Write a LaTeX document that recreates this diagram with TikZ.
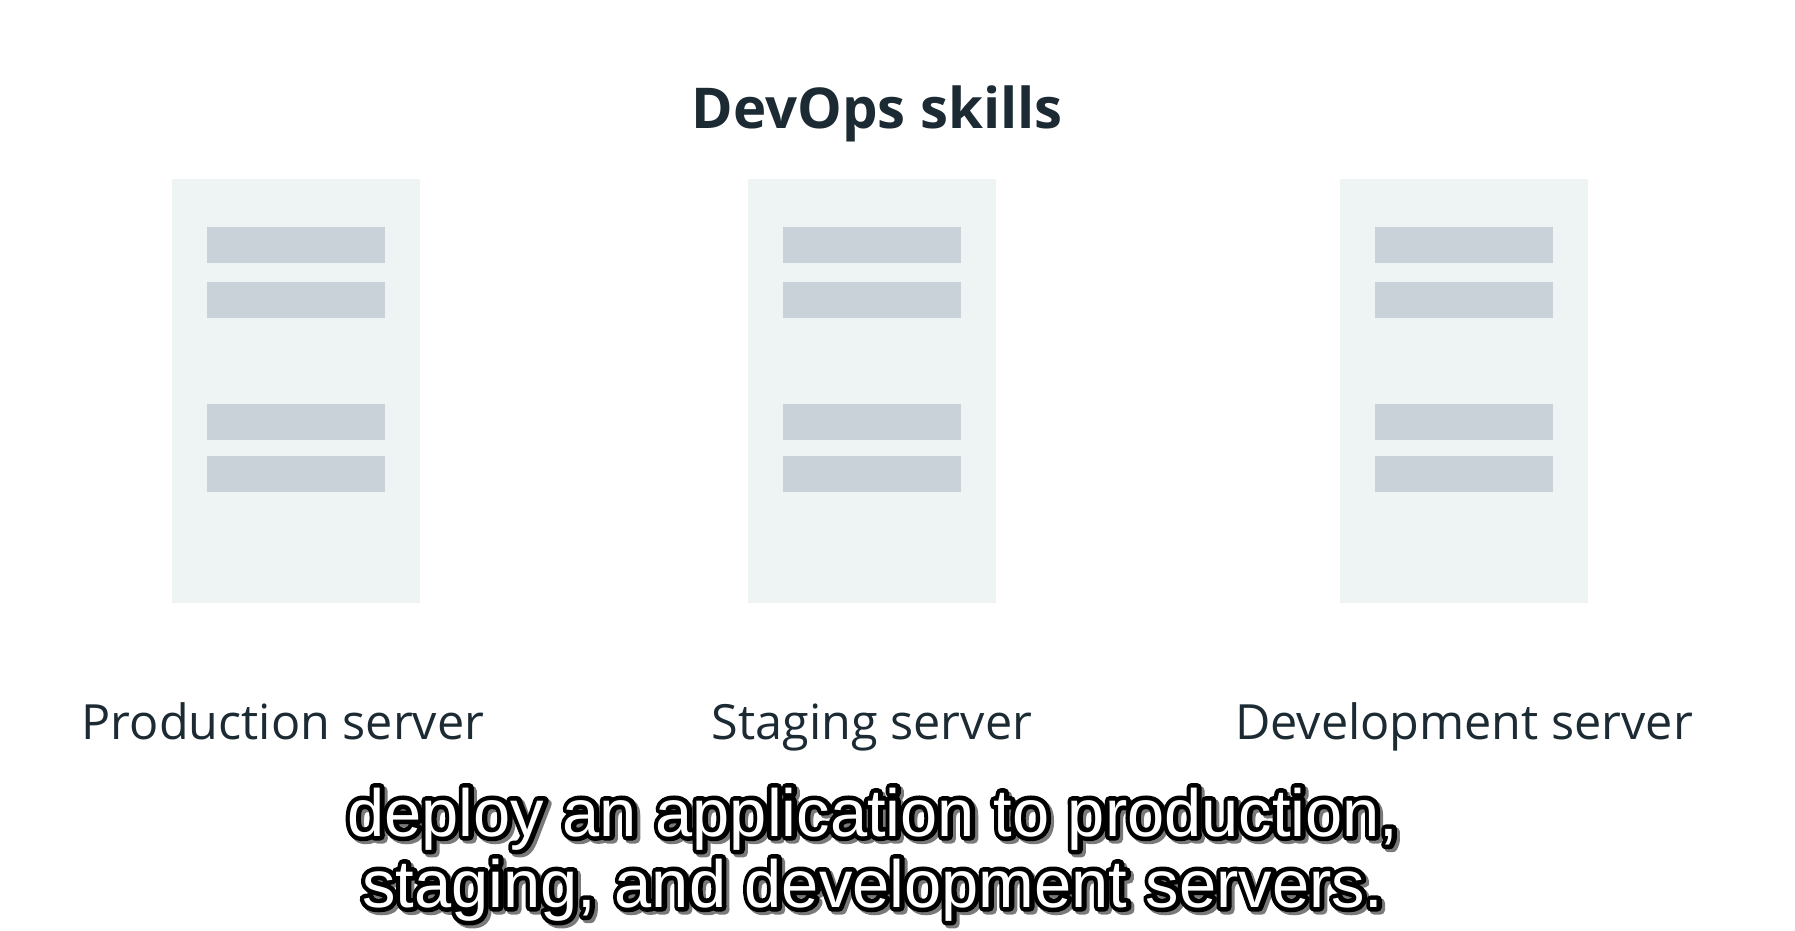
\documentclass[tikz,border=0pt]{standalone}
\usepackage{fontspec}
\setmainfont{Open Sans}
\newfontfamily\capfont{Liberation Sans}
\usetikzlibrary{positioning}
\definecolor{inkdark}{HTML}{1C2B33}
\definecolor{panelgray}{HTML}{EEF3F4}
\definecolor{bargray}{HTML}{C9D2D8}
\definecolor{shadegray}{HTML}{7A7A7A}
% text drawn as a thick stroke (outline under the white letters)
\newcommand{\strokedtext}[1]{\special{pdf:literal direct 1 j 1 Tr 2.6 w}#1\special{pdf:literal direct 0 Tr}}

\tikzset{
  panel/.style={fill=panelgray, draw=none, minimum width=2.48cm, minimum height=4.24cm, inner sep=0pt, outer sep=0pt},
  bar/.style={fill=bargray, draw=none, minimum width=1.78cm, minimum height=0.36cm, inner sep=0pt, outer sep=0pt},
  srvlabel/.style={text=inkdark, anchor=base, inner sep=0pt, font=\fontsize{13.8pt}{16pt}\selectfont},
  caption/.style={anchor=base, inner sep=0pt, font=\capfont\fontsize{19pt}{22pt}\selectfont}
}

\begin{document}
\begin{tikzpicture}[x=0.01cm, y=-0.01cm]
  \useasboundingbox[fill=white] (0,0) rectangle (1795,930);

  % heading
  \node[text=inkdark, anchor=base, inner sep=0pt, font=\bfseries\fontsize{16pt}{19pt}\selectfont] (title) at (877,128) {DevOps skills};

  % the three servers
  \foreach \nm/\cx in {prod/296, stag/872, dev/1464} {
    \node[panel] (\nm) at (\cx,391) {};
    \node[bar, below=0.48cm of \nm.north] (\nm-a) {};
    \node[bar, below=0.19cm of \nm-a] (\nm-b) {};
    \node[bar, below=0.86cm of \nm-b] (\nm-c) {};
    \node[bar, below=0.155cm of \nm-c] (\nm-d) {};
  }

  % labels
  \node[srvlabel] (prodlbl) at (283,739) {Production server};
  \node[srvlabel] (staglbl) at (872,739) {Staging server};
  \node[srvlabel] (devlbl) at (1464,739) {Development server};

  % subtitle: shadow, outline, then white letters
  \node[caption, text=shadegray] (capshade1) at (876,839) {\strokedtext{deploy an application to production,}};
  \node[caption, text=shadegray] (capshade2) at (876,910) {\strokedtext{staging, and development servers.}};
  \node[caption, text=black] (capline1) at (873,836) {\strokedtext{deploy an application to production,}};
  \node[caption, text=black] (capline2) at (873,907) {\strokedtext{staging, and development servers.}};
  \node[caption, text=white] (cap1) at (873,836) {deploy an application to production,};
  \node[caption, text=white] (cap2) at (873,907) {staging, and development servers.};
\end{tikzpicture}
\end{document}
